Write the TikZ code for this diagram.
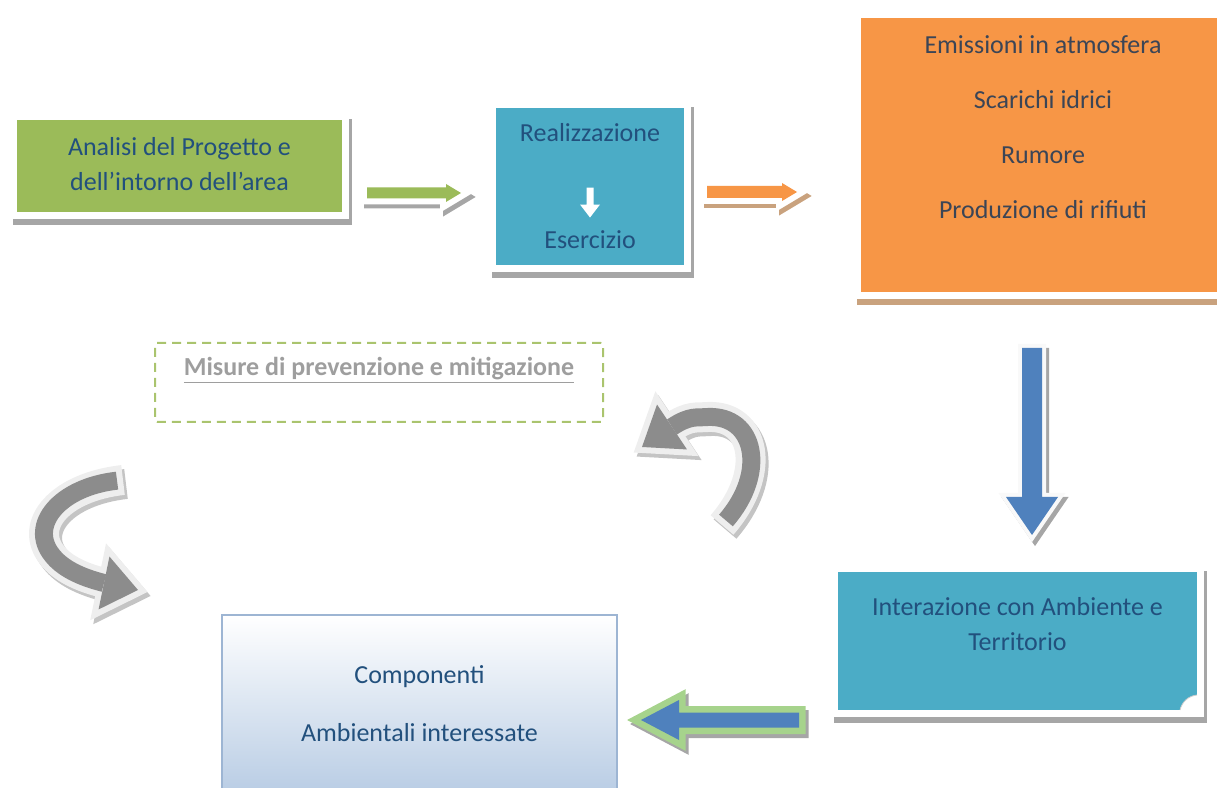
\documentclass[tikz,border=0pt]{standalone}
\usepackage{fontspec}
\setmainfont{Carlito}
\usetikzlibrary{positioning,calc}

\definecolor{boxgreen}{HTML}{9BBB59}
\definecolor{boxteal}{HTML}{4BACC6}
\definecolor{boxorange}{HTML}{F79646}
\definecolor{textnavy}{HTML}{22507D}
\definecolor{textslate}{HTML}{3B4556}
\definecolor{arrowblue}{HTML}{4F81BD}
\definecolor{rimgreen}{HTML}{A6D38C}
\definecolor{shadowgray}{HTML}{A6A6A6}
\definecolor{shadowtan}{HTML}{C9A27E}
\definecolor{curlgray}{HTML}{8C8C8C}
\definecolor{curlrim}{HTML}{EEEEEE}
\definecolor{curlshadow}{HTML}{C4C4C4}
\definecolor{compedge}{HTML}{9DB5D3}
\definecolor{compbottom}{HTML}{B8CCE4}
\definecolor{dashgreen}{HTML}{AAC46E}
\definecolor{misuregray}{HTML}{9E9E9E}

% block arrow as a filled outline: style, from, to, shaft half, head half, head length
\newcommand{\blockarrow}[6]{%
  \coordinate (ba-base) at ($(#3)!#6!(#2)$);
  \path[#1] ($(#2)!#4!90:(#3)$) -- ($(ba-base)!#4!90:(#3)$) -- ($(ba-base)!#5!90:(#3)$)
    -- (#3) -- ($(ba-base)!#5!-90:(#3)$) -- ($(ba-base)!#4!-90:(#3)$)
    -- ($(#2)!#4!-90:(#3)$) -- cycle;}

% curved arrow: body path, back of head, tip
\newcommand{\curlhead}[3]{($(#2)!#1!90:(#3)$) -- (#3) -- ($(#2)!#1!-90:(#3)$) -- cycle}
\newcommand{\curl}[3]{%
  \begin{scope}[transform canvas={shift={(3pt,-4pt)}}]
    \draw[curlshadow, line width=30pt] #1;
    \filldraw[curlshadow, line width=12pt, line join=miter] \curlhead{27pt}{#2}{#3};
  \end{scope}
  \draw[curlrim, line width=30pt] #1;
  \filldraw[curlrim, line width=12pt, line join=miter] \curlhead{27pt}{#2}{#3};
  \draw[curlgray, line width=18pt, shorten <=6pt] #1;
  \fill[curlgray] \curlhead{27pt}{#2}{#3};}

\tikzset{
  panel/.style={rectangle, fill=#1, draw=white, line width=7pt, inner sep=0pt},
  castshadow/.style={preaction={draw=#1, line width=7pt,
      transform canvas={shift={(3pt,-6pt)}}}},
  boxtext/.style={text=textnavy, font=\fontsize{26}{31}\selectfont,
    align=center, inner sep=0pt},
  % rimmed block arrows: #1 fill, #2 rim, #3 shadow, #4 rim width
  rimmed/.style n args={4}{fill=#1, line join=miter,
    preaction={fill=#3, draw=#3, line width=#4, line join=miter,
      transform canvas={shift={(3pt,-4pt)}}},
    preaction={draw=#2, line width=#4, line join=miter}}
}

\begin{document}
\begin{tikzpicture}[x=1pt,y=1pt]
  \useasboundingbox (0,0) rectangle (1217,787);

  % Boxes
  \node[panel=boxgreen, castshadow=shadowgray,
    minimum width=332pt, minimum height=99pt] (analisi) at (179.5,621) {};
  \node[panel=boxteal, castshadow=shadowgray,
    minimum width=195pt, minimum height=164pt] (realiz) at (590,600.5) {};
  \node[panel=boxorange, castshadow=shadowtan,
    minimum width=371pt, minimum height=281pt] (emissioni) at (1043,632) {};
  \node[panel=boxteal, castshadow=shadowgray,
    minimum width=366pt, minimum height=145pt] (interaz) at (1017.5,146) {};
  \node[draw=compedge, line width=1.2pt, top color=white, bottom color=compbottom,
    minimum width=395pt, minimum height=180pt] (compon) at (419.5,82) {};
  \node[draw=dashgreen, line width=2pt, dash pattern=on 9pt off 6pt,
    rounded corners=2pt, minimum width=448pt, minimum height=79pt] (misure) at (379,404.5) {};

  % Texts
  \node[boxtext] (analisi-t) at ([yshift=1.5pt]analisi.center)
    {Analisi del Progetto e\\[4pt]dell’intorno dell’area};
  \node[boxtext] (real) at ([yshift=53.5pt]realiz.center) {Realizzazione};
  \node[boxtext] (eser) at ([yshift=-53.5pt]realiz.center) {Esercizio};
  \node[boxtext, text=textslate] (emissioni-t) at ([yshift=27.5pt]emissioni.center)
    {Emissioni in atmosfera\\[24pt]Scarichi idrici\\[24pt]Rumore\\[24pt]Produzione di rifiuti};
  \node[boxtext] (interaz-t) at ([yshift=16.5pt]interaz.center)
    {Interazione con Ambiente e\\[4pt]Territorio};
  \node[boxtext] (compon-t) at ([yshift=1pt]compon.center)
    {Componenti\\[27pt]Ambientali interessate};
  \node[boxtext, text=misuregray, font=\fontsize{26}{31}\selectfont\bfseries]
    (misure-t) at ([yshift=12.5pt]misure.center)
    {\underline{Misure di prevenzione e mitigazione}};

  % folded corner
  \fill[white] ($(interaz.south east)+(-24,7)$)
    .. controls ($(interaz.south east)+(-22,15)$) and ($(interaz.south east)+(-16,21)$)
    .. ($(interaz.south east)+(-7,22)$) -- ($(interaz.south east)+(-7,7)$) -- cycle;
  \draw[gray!40, line width=0.8pt] ($(interaz.south east)+(-24,7)$)
    .. controls ($(interaz.south east)+(-22,15)$) and ($(interaz.south east)+(-16,21)$)
    .. ($(interaz.south east)+(-7,22)$);

  % Curved arrows
  \coordinate (curl1-a) at (722,262);
  \coordinate (curl1-m) at (672,360);
  \coordinate (curl1-b) at (642,340);
  \coordinate (curl2-a) at (123,307);
  \coordinate (curl2-m) at (104,204);
  \coordinate (curl2-b) at (138,197);
  \curl{(curl1-a) .. controls (768,315) and (755,372) .. (708,370)
    .. controls (697,369) and (690,372) .. (curl1-m)}{curl1-m}{curl1-b}
  \curl{(curl2-a) .. controls (60,300) and (28,262) .. (52,232)
    .. controls (62,219) and (80,210) .. (curl2-m)}{curl2-m}{curl2-b}

  % Edges
  \coordinate (real-from) at ($(real)!0.51!(eser)$);
  \coordinate (real-to) at ($(real)!0.79!(eser)$);
  \blockarrow{fill=white}{real-from}{real-to}{3.5pt}{10pt}{13pt}

  \coordinate (analisi-out) at ([xshift=18pt,yshift=-27pt]analisi.east);
  \coordinate (realiz-in) at ([xshift=-28pt,yshift=-6.5pt]realiz.west);
  \blockarrow{rimmed={boxgreen}{white}{shadowgray}{12pt}}{analisi-out}{realiz-in}{5.5pt}{9pt}{15pt}

  \coordinate (realiz-out) at ([xshift=16pt,yshift=-5.5pt]realiz.east);
  \coordinate (emissioni-in) at ([xshift=-57pt,yshift=-37pt]emissioni.west);
  \blockarrow{rimmed={boxorange}{white}{shadowtan}{12pt}}{realiz-out}{emissioni-in}{6pt}{9pt}{15pt}

  \coordinate (emissioni-out) at ([xshift=-11pt,yshift=-49pt]emissioni.south);
  \coordinate (interaz-in) at ([xshift=14.5pt,yshift=30pt]interaz.north);
  \blockarrow{rimmed={arrowblue}{white!95!gray}{shadowgray}{8pt}}{emissioni-out}{interaz-in}{10pt}{26pt}{38pt}

  \coordinate (interaz-out) at ([xshift=-32pt,yshift=-79pt]interaz.west);
  \coordinate (compon-in) at ([xshift=23.4pt,yshift=-15pt]compon.east);
  \blockarrow{rimmed={arrowblue}{rimgreen}{shadowgray}{13pt}}{interaz-out}{compon-in}{7.5pt}{20pt}{38pt}

\end{tikzpicture}
\end{document}
